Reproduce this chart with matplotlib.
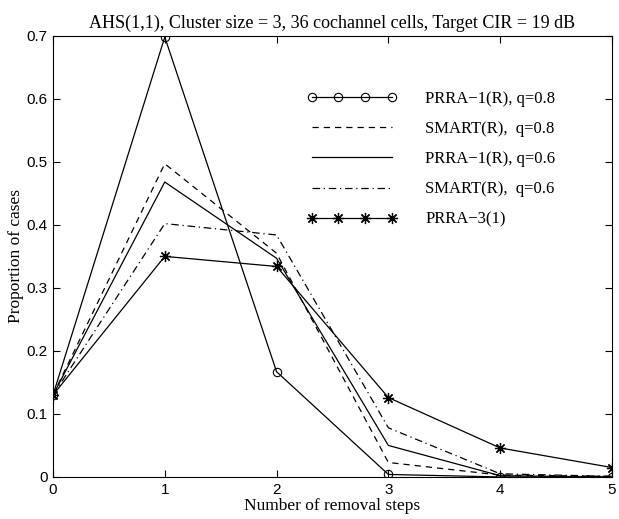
import numpy as np
import matplotlib
matplotlib.use("Agg")
import matplotlib.pyplot as plt

steps = [0, 1, 2, 3, 4, 5]
prra1_q08 = [0.13, 0.698, 0.167, 0.004, 0.0, 0.0]
smart_q08 = [0.13, 0.497, 0.355, 0.023, 0.003, 0.001]
prra1_q06 = [0.13, 0.468, 0.347, 0.050, 0.002, 0.0]
smart_q06 = [0.13, 0.402, 0.384, 0.078, 0.005, 0.001]
prra3 = [0.13, 0.350, 0.334, 0.126, 0.046, 0.015]

labels = ["PRRA\u22121(R), q=0.8", "SMART(R),  q=0.8", "PRRA\u22121(R), q=0.6",
          "SMART(R),  q=0.6", "PRRA\u22123(1)"]

serif = ["Liberation Serif", "DejaVu Serif"]
sans = ["Liberation Sans", "DejaVu Sans"]

fig = plt.figure(figsize=(6.19, 5.19), dpi=100)
ax = fig.add_axes([0.0856, 0.081, 0.903, 0.85])

lw = 0.9
ax.plot(steps, prra1_q08, "k-", lw=lw, marker="o", mfc="none", ms=6, mew=0.8, label=labels[0])
ax.plot(steps, smart_q08, "k--", lw=lw, dashes=(5, 4), label=labels[1])
ax.plot(steps, prra1_q06, "k-", lw=lw, label=labels[2])
ax.plot(steps, smart_q06, "k-.", lw=lw, dashes=(6, 3, 1, 3), label=labels[3])
ax.plot(steps, prra3, "k-", lw=lw, marker=(8, 2, 0), ms=8, mew=0.9, label=labels[4])

ax.set_xlim(0, 5)
ax.set_ylim(0, 0.7)
ax.set_xticks(range(6))
ax.set_yticks(np.arange(0, 0.71, 0.1))
ax.set_yticklabels(["0", "0.1", "0.2", "0.3", "0.4", "0.5", "0.6", "0.7"])
ax.tick_params(direction="in", top=True, right=True, length=5, width=0.8, labelsize=11, pad=4)
for t in ax.get_xticklabels() + ax.get_yticklabels():
    t.set_family(sans)
for s in ax.spines.values():
    s.set_linewidth(0.8)

ax.set_title("AHS(1,1), Cluster size = 3, 36 cochannel cells, Target CIR = 19 dB",
             family=serif, fontsize=13, pad=6)
ax.set_xlabel("Number of removal steps", family=serif, fontsize=12.5, labelpad=1)
ax.set_ylabel("Proportion of cases", family=serif, fontsize=12.5, labelpad=2)

leg = ax.legend(loc="upper left", bbox_to_anchor=(0.454, 0.875), frameon=False, numpoints=4,
                borderaxespad=0, borderpad=0,
                handlelength=5.4, handletextpad=1.7, labelspacing=0.85,
                prop={"family": serif, "size": 12})

fig.savefig("out.png", dpi=100)
